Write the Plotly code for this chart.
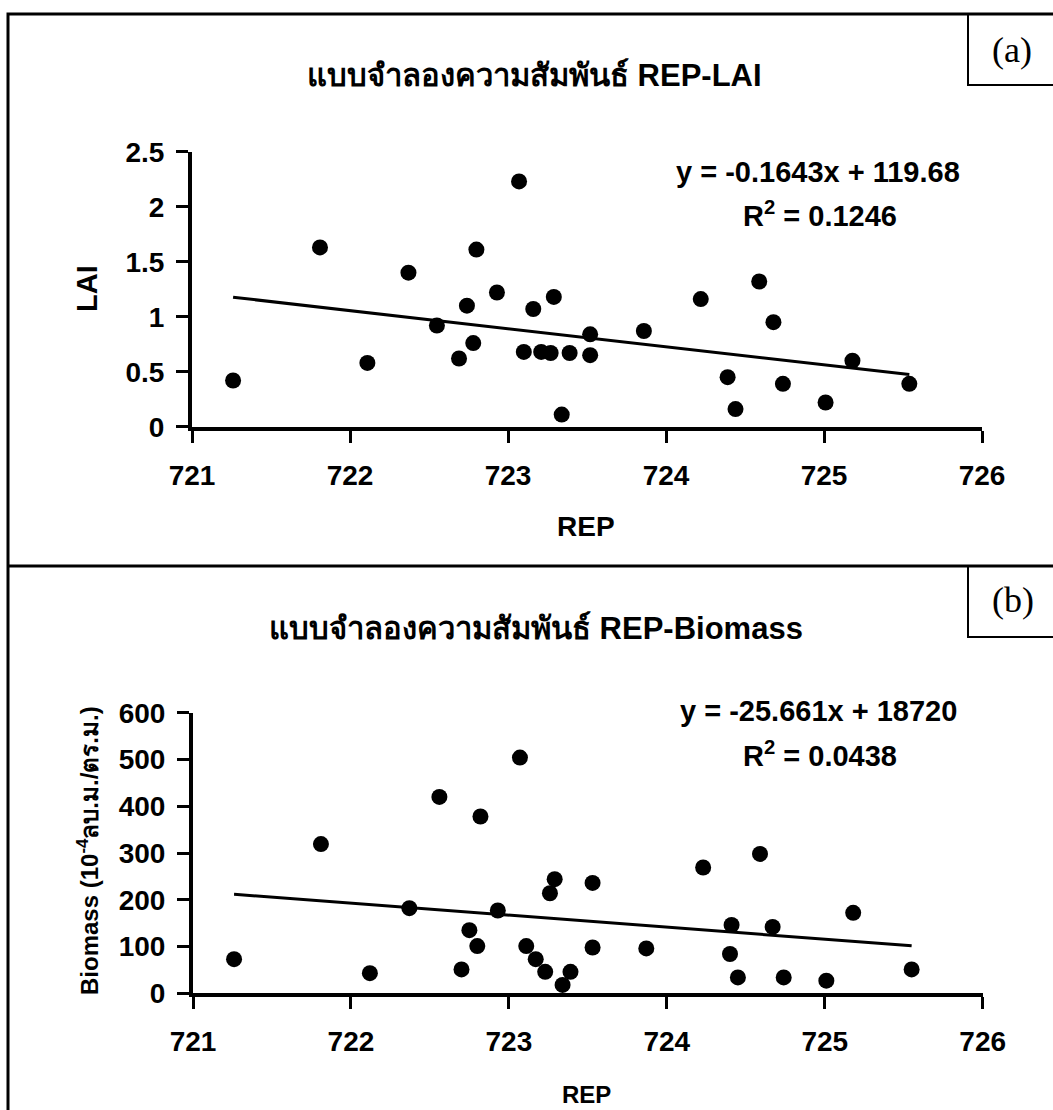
import plotly.graph_objects as go

# ---------------- data ----------------
rep_a = [721.26, 721.81, 722.11, 722.37, 722.55, 722.69, 722.74, 722.78, 722.80, 722.93,
         723.07, 723.10, 723.16, 723.21, 723.27, 723.29, 723.34, 723.39, 723.52, 723.52,
         723.86, 724.22, 724.39, 724.44, 724.59, 724.68, 724.74, 725.01, 725.18, 725.54]
lai = [0.42, 1.63, 0.58, 1.40, 0.92, 0.62, 1.10, 0.76, 1.61, 1.22,
       2.23, 0.68, 1.07, 0.68, 0.67, 1.18, 0.11, 0.67, 0.84, 0.65,
       0.87, 1.16, 0.45, 0.16, 1.32, 0.95, 0.39, 0.22, 0.60, 0.39]

rep_b = [721.26, 721.81, 722.12, 722.37, 722.56, 722.70, 722.75, 722.80, 722.82, 722.93,
         723.07, 723.11, 723.17, 723.23, 723.26, 723.29, 723.34, 723.39, 723.53, 723.53,
         723.87, 724.23, 724.40, 724.41, 724.45, 724.59, 724.67, 724.74, 725.01, 725.18, 725.55]
biomass = [73, 319, 43, 182, 420, 51, 135, 101, 378, 177,
           504, 101, 73, 46, 214, 244, 18, 46, 236, 98,
           96, 269, 84, 146, 34, 298, 142, 34, 27, 172, 51]

slope_a, intercept_a = -0.1643, 119.68
slope_b, intercept_b = -25.661, 18720

x_ticks = [721, 722, 723, 724, 725, 726]
y_ticks_a = [0, 0.5, 1, 1.5, 2, 2.5]
y_ticks_b = [0, 100, 200, 300, 400, 500, 600]

title_a = "แบบจำลองความสัมพันธ์ REP-LAI"
title_b = "แบบจำลองความสัมพันธ์ REP-Biomass"
eq_a = "y = -0.1643x + 119.68"
r2_a = "R<sup>2</sup> = 0.1246"
eq_b = "y = -25.661x + 18720"
r2_b = "R<sup>2</sup> = 0.0438"

# ---------------- layout helpers ----------------
W, H = 1053, 1110
def px(x):
    return x / W
def py(y):
    return 1 - y / H

FONT = "Arial, 'Liberation Sans', 'Noto Sans', sans-serif"
SERIF = "'Times New Roman', 'Liberation Serif', 'DejaVu Serif', serif"

fig = go.Figure()

# panel (a)
fig.add_trace(go.Scatter(x=rep_a, y=lai, mode="markers",
                         marker=dict(color="black", size=16), xaxis="x", yaxis="y",
                         showlegend=False))
xa = [min(rep_a), max(rep_a)]
fig.add_trace(go.Scatter(x=xa, y=[slope_a * v + intercept_a for v in xa], mode="lines",
                         line=dict(color="black", width=3), xaxis="x", yaxis="y",
                         showlegend=False))
# panel (b)
fig.add_trace(go.Scatter(x=rep_b, y=biomass, mode="markers",
                         marker=dict(color="black", size=16), xaxis="x2", yaxis="y2",
                         showlegend=False))
xb = [min(rep_b), max(rep_b)]
fig.add_trace(go.Scatter(x=xb, y=[slope_b * v + intercept_b for v in xb], mode="lines",
                         line=dict(color="black", width=3), xaxis="x2", yaxis="y2",
                         showlegend=False))

axis_common = dict(showline=True, linecolor="black", linewidth=4, ticks="outside",
                   ticklen=12, tickwidth=3, tickcolor="black", showgrid=False,
                   zeroline=False, automargin=False,
                   tickfont=dict(family=FONT, size=28, color="black", weight="bold"))

fig.update_layout(
    width=W, height=H, margin=dict(l=0, r=0, t=0, b=0, pad=0, autoexpand=False),
    paper_bgcolor="white", plot_bgcolor="rgba(0,0,0,0)",
    xaxis=dict(domain=[px(192), px(982)], range=[721, 726], tickvals=x_ticks,
               anchor="y", ticklabelstandoff=9, **axis_common),
    yaxis=dict(domain=[py(426.7), py(151.7)], range=[0, 2.5], tickvals=y_ticks_a,
               anchor="x", ticklabelstandoff=6, **axis_common),
    xaxis2=dict(domain=[px(193), px(982.7)], range=[721, 726], tickvals=x_ticks,
                anchor="y2", ticklabelstandoff=8, **axis_common),
    yaxis2=dict(domain=[py(993.3), py(712.7)], range=[0, 600], tickvals=y_ticks_b,
                anchor="x2", ticklabelstandoff=6, **axis_common),
)

def ann(text, x, y, size, family=FONT, angle=0, bold=True):
    fig.add_annotation(text=text, x=px(x), y=py(y), xref="paper", yref="paper",
                       xanchor="center", yanchor="middle", showarrow=False, textangle=angle,
                       font=dict(family=family, size=size, color="black",
                                 weight="bold" if bold else "normal"))

ann(title_a, 534, 76, 31)
ann(eq_a, 818, 172, 29)
ann(r2_a, 820, 214, 29)
ann("LAI", 87, 289, 29, angle=-90)
ann("REP", 586, 526, 28)
ann("(a)", 1012, 50, 36, family=SERIF, bold=False)

ann(title_b, 536, 628, 31)
ann(eq_b, 818, 711, 29)
ann(r2_b, 820, 754, 29)
ann("Biomass (10<sup>-4</sup>ลบ.ม./ตร.ม.)", 88, 851, 24, angle=-90)
ann("REP", 586, 1094, 24)
ann("(b)", 1013, 600, 36, family=SERIF, bold=False)

# frame, divider and label boxes
fig.add_shape(type="rect", xref="paper", yref="paper", x0=px(8), x1=1.02, y0=-0.02, y1=py(14),
              line=dict(color="black", width=3))
fig.add_shape(type="line", xref="paper", yref="paper", x0=px(8), x1=1.02, y0=py(566), y1=py(566),
              line=dict(color="black", width=3))
fig.add_shape(type="rect", xref="paper", yref="paper", x0=px(968), x1=1.02, y0=py(85), y1=py(14),
              line=dict(color="black", width=2))
fig.add_shape(type="rect", xref="paper", yref="paper", x0=px(968), x1=1.02, y0=py(637), y1=py(566),
              line=dict(color="black", width=2))

fig.write_html("out.html")
